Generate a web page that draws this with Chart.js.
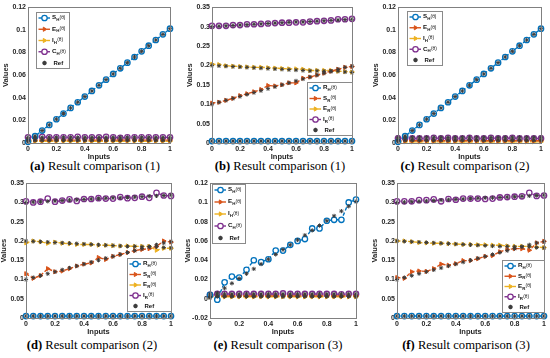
<!DOCTYPE html>
<html>
<head>
<meta charset="utf-8">
<script src="https://cdn.jsdelivr.net/npm/chart.js@4.4.1/dist/chart.umd.min.js"></script>
<style>
  body { margin: 0; width: 550px; height: 358px; background: #fff; position: relative; overflow: hidden; }
  canvas.panel { position: absolute; }
  .cap { position: absolute; font-family: "Liberation Serif", "Times New Roman", serif; font-size: 12.6px; color: #000; white-space: nowrap; transform: translateX(-50%); }
</style>
</head>
<body>
<div class="cap" style="left:95px;top:159px"><b>(a)</b> Result comparison (1)</div>
<div class="cap" style="left:280px;top:159px"><b>(b)</b> Result comparison (1)</div>
<div class="cap" style="left:465px;top:159px"><b>(c)</b> Result comparison (2)</div>
<div class="cap" style="left:92px;top:338px"><b>(d)</b> Result comparison (2)</div>
<div class="cap" style="left:278px;top:338px"><b>(e)</b> Result comparison (3)</div>
<div class="cap" style="left:466px;top:338px"><b>(f)</b> Result comparison (3)</div>

<script>
// --- datos ---
const inputs = [0, 0.05, 0.1, 0.15, 0.2, 0.25, 0.3, 0.35, 0.4, 0.45, 0.5, 0.55, 0.6, 0.65, 0.7, 0.75, 0.8, 0.85, 0.9, 0.95, 1];
const xTicks = [0, 0.2, 0.4, 0.6, 0.8, 1];

// referencia (estrellas grises)
const refSH = [0.001, 0.006, 0.011, 0.016, 0.021, 0.026, 0.031, 0.036, 0.041, 0.046, 0.051, 0.056, 0.061, 0.066, 0.071, 0.076, 0.081, 0.086, 0.091, 0.096, 0.101];
const refEH = [0.0025, 0.0025, 0.0025, 0.0025, 0.0025, 0.0025, 0.0025, 0.0025, 0.0025, 0.0025, 0.0025, 0.0025, 0.0025, 0.0025, 0.0025, 0.0025, 0.0025, 0.0025, 0.0025, 0.0025, 0.0025];
const refCH = [0.005, 0.005, 0.005, 0.005, 0.005, 0.005, 0.005, 0.005, 0.005, 0.005, 0.005, 0.005, 0.005, 0.005, 0.005, 0.005, 0.005, 0.005, 0.005, 0.005, 0.005];
const refRH = [0.005, 0.005, 0.005, 0.005, 0.005, 0.005, 0.005, 0.005, 0.005, 0.005, 0.005, 0.005, 0.005, 0.005, 0.005, 0.005, 0.005, 0.005, 0.005, 0.005, 0.005];
const refSR = [0.100, 0.105, 0.110, 0.115, 0.120, 0.125, 0.130, 0.135, 0.140, 0.145, 0.150, 0.155, 0.160, 0.165, 0.170, 0.175, 0.180, 0.185, 0.190, 0.195, 0.198];
const refER = [0.200, 0.199, 0.198, 0.197, 0.196, 0.195, 0.194, 0.193, 0.192, 0.191, 0.190, 0.189, 0.188, 0.187, 0.186, 0.186, 0.185, 0.185, 0.185, 0.183, 0.182];
const refIR = [0.300, 0.301, 0.302, 0.303, 0.304, 0.305, 0.306, 0.307, 0.308, 0.309, 0.310, 0.311, 0.312, 0.312, 0.313, 0.314, 0.315, 0.316, 0.317, 0.318, 0.319];

// (a)
const aSH = [0.001, 0.006, 0.011, 0.016, 0.021, 0.026, 0.031, 0.036, 0.041, 0.046, 0.051, 0.056, 0.061, 0.066, 0.071, 0.076, 0.081, 0.086, 0.091, 0.096, 0.101];
const aEH = [0.0025, 0.0025, 0.0025, 0.0025, 0.0025, 0.0025, 0.0025, 0.0025, 0.0025, 0.0025, 0.0025, 0.0025, 0.0025, 0.0025, 0.0025, 0.0025, 0.0025, 0.0025, 0.0025, 0.0025, 0.0025];
const aIH = [0.0015, 0.0015, 0.0015, 0.0015, 0.0015, 0.0015, 0.0015, 0.0015, 0.0015, 0.0015, 0.0015, 0.0015, 0.0015, 0.0015, 0.0015, 0.0015, 0.0015, 0.0015, 0.0015, 0.0015, 0.0015];
const aCH = [0.005, 0.0055, 0.0055, 0.005, 0.005, 0.005, 0.005, 0.0055, 0.005, 0.005, 0.005, 0.0055, 0.005, 0.0045, 0.005, 0.005, 0.005, 0.005, 0.005, 0.005, 0.005];

// (b)
const bRH = [0.005, 0.005, 0.005, 0.005, 0.005, 0.005, 0.005, 0.005, 0.005, 0.005, 0.005, 0.005, 0.005, 0.005, 0.005, 0.005, 0.005, 0.005, 0.005, 0.005, 0.005];
const bSR = [0.103, 0.105, 0.110, 0.115, 0.122, 0.127, 0.132, 0.138, 0.148, 0.147, 0.150, 0.155, 0.155, 0.167, 0.170, 0.175, 0.180, 0.185, 0.190, 0.195, 0.197];
const bER = [0.203, 0.202, 0.199, 0.198, 0.197, 0.196, 0.195, 0.195, 0.194, 0.193, 0.192, 0.191, 0.191, 0.190, 0.187, 0.187, 0.187, 0.187, 0.185, 0.184, 0.183];
const bIR = [0.302, 0.302, 0.302, 0.304, 0.304, 0.306, 0.306, 0.307, 0.308, 0.309, 0.310, 0.310, 0.311, 0.311, 0.313, 0.314, 0.315, 0.316, 0.319, 0.319, 0.320];

// (c)
const cSH = [0.001, 0.006, 0.011, 0.016, 0.021, 0.026, 0.031, 0.036, 0.041, 0.046, 0.051, 0.056, 0.061, 0.066, 0.071, 0.076, 0.081, 0.086, 0.091, 0.096, 0.101];
const cEH = [0.002, 0.002, 0.002, 0.002, 0.002, 0.002, 0.002, 0.002, 0.002, 0.002, 0.002, 0.002, 0.002, 0.002, 0.002, 0.002, 0.002, 0.002, 0.002, 0.002, 0.002];
const cIH = [0.001, 0.001, 0.001, 0.001, 0.001, 0.001, 0.001, 0.001, 0.001, 0.001, 0.001, 0.001, 0.001, 0.001, 0.001, 0.001, 0.001, 0.001, 0.001, 0.001, 0.001];
const cCH = [0.004, 0.0045, 0.004, 0.004, 0.004, 0.0045, 0.004, 0.0045, 0.004, 0.004, 0.0045, 0.004, 0.004, 0.0045, 0.004, 0.004, 0.0045, 0.004, 0.004, 0.004, 0.004];

// (d)
const dRH = [0.005, 0.005, 0.005, 0.005, 0.005, 0.005, 0.005, 0.005, 0.005, 0.005, 0.005, 0.005, 0.005, 0.005, 0.005, 0.005, 0.005, 0.005, 0.005, 0.005, 0.005];
const dSR = [0.115, 0.103, 0.110, 0.128, 0.120, 0.122, 0.128, 0.135, 0.140, 0.143, 0.157, 0.152, 0.160, 0.165, 0.170, 0.175, 0.178, 0.180, 0.186, 0.200, 0.197];
const dER = [0.195, 0.200, 0.198, 0.194, 0.197, 0.194, 0.193, 0.191, 0.191, 0.191, 0.189, 0.189, 0.188, 0.187, 0.187, 0.186, 0.186, 0.186, 0.176, 0.181, 0.181];
const dIR = [0.303, 0.300, 0.302, 0.310, 0.302, 0.305, 0.308, 0.304, 0.309, 0.309, 0.311, 0.310, 0.310, 0.314, 0.311, 0.312, 0.315, 0.312, 0.325, 0.318, 0.317];

// (e)
const eSH = [0.004, -0.001, 0.017, 0.023, 0.022, 0.030, 0.040, 0.038, 0.041, 0.050, 0.050, 0.056, 0.060, 0.062, 0.073, 0.073, 0.081, 0.082, 0.082, 0.100, 0.103];
const eEH = [0.003, 0.003, 0.003, 0.003, 0.003, 0.003, 0.003, 0.003, 0.003, 0.003, 0.003, 0.003, 0.003, 0.003, 0.003, 0.003, 0.003, 0.003, 0.003, 0.003, 0.003];
const eIH = [0.002, 0.002, 0.002, 0.002, 0.002, 0.002, 0.002, 0.002, 0.002, 0.002, 0.002, 0.002, 0.002, 0.002, 0.002, 0.002, 0.002, 0.002, 0.002, 0.002, 0.002];
const eCH = [0.004, 0.005, 0.005, 0.005, 0.005, 0.005, 0.005, 0.005, 0.005, 0.005, 0.0055, 0.005, 0.005, 0.005, 0.005, 0.005, 0.005, 0.005, 0.0045, 0.005, 0.005];

// (f)
const fRH = [0.005, 0.005, 0.005, 0.005, 0.005, 0.005, 0.005, 0.005, 0.005, 0.005, 0.005, 0.005, 0.005, 0.005, 0.005, 0.005, 0.005, 0.005, 0.005, 0.005, 0.005];
const fSR = [0.105, 0.103, 0.120, 0.122, 0.121, 0.128, 0.140, 0.137, 0.141, 0.149, 0.149, 0.154, 0.160, 0.162, 0.172, 0.178, 0.180, 0.180, 0.176, 0.195, 0.199];
const fER = [0.200, 0.200, 0.198, 0.196, 0.195, 0.194, 0.194, 0.193, 0.192, 0.191, 0.191, 0.190, 0.190, 0.189, 0.189, 0.187, 0.186, 0.186, 0.186, 0.184, 0.183];
const fIR = [0.303, 0.303, 0.303, 0.306, 0.306, 0.308, 0.303, 0.309, 0.307, 0.310, 0.310, 0.310, 0.309, 0.310, 0.313, 0.314, 0.315, 0.316, 0.325, 0.317, 0.318];

// --- estilos ---
const AZUL = '#0072BD', NARANJA = '#D95319', AMARILLO = '#EDB120', MORADO = '#7E2F8E', GRIS_REF = '#3c3c3c';
const EJE = '#808080';
const FUENTE = '"Liberation Sans", Arial, sans-serif';

const serie = (name, sub, data, color, abierto) => ({ name, sub, data, color, abierto });

const paneles = [
    { plot: [28, 7, 170, 143], y: [0, 0.12, 0.02],
      legend: { corner: 'nw', dx: 8, dy: 5, w: 33, h: 56 },
      series: [serie('S', 'H', aSH, AZUL, true), serie('E', 'H', aEH, NARANJA, false), serie('I', 'H', aIH, AMARILLO, false), serie('C', 'H', aCH, MORADO, true)],
      refs: [refSH, refEH, refEH, refCH] },
    { plot: [212, 7, 352, 143], y: [0, 0.35, 0.05],
      legend: { corner: 'se', dx: 0, dy: 8, w: 45, h: 53 },
      series: [serie('R', 'H', bRH, AZUL, true), serie('S', 'R', bSR, NARANJA, false), serie('E', 'R', bER, AMARILLO, false), serie('I', 'R', bIR, MORADO, true)],
      refs: [refRH, refSR, refER, refIR] },
    { plot: [398, 7, 541, 143], y: [0, 0.12, 0.02],
      legend: { corner: 'nw', dx: 9, dy: 4, w: 35, h: 54 },
      series: [serie('S', 'H', cSH, AZUL, true), serie('E', 'H', cEH, NARANJA, false), serie('I', 'H', cIH, AMARILLO, false), serie('C', 'H', cCH, MORADO, true)],
      refs: [refSH, refEH, refEH, refCH] },
    { plot: [26, 183, 171, 318], y: [0, 0.35, 0.05],
      legend: { corner: 'se', dx: 0, dy: 7, w: 44, h: 53 },
      series: [serie('R', 'H', dRH, AZUL, true), serie('S', 'R', dSR, NARANJA, false), serie('E', 'R', dER, AMARILLO, false), serie('I', 'R', dIR, MORADO, true)],
      refs: [refRH, refSR, refER, refIR] },
    { plot: [210, 183, 356, 318], y: [-0.02, 0.12, 0.02],
      legend: { corner: 'nw', dx: 2, dy: 1, w: 33, h: 59 },
      series: [serie('S', 'H', eSH, AZUL, true), serie('E', 'H', eEH, NARANJA, false), serie('I', 'H', eIH, AMARILLO, false), serie('C', 'H', eCH, MORADO, true)],
      refs: [refSH, refEH, refEH, refCH] },
    { plot: [397, 183, 544, 318], y: [0, 0.35, 0.05],
      legend: { corner: 'se', dx: 0, dy: 6, w: 42, h: 52 },
      series: [serie('R', 'H', fRH, AZUL, true), serie('S', 'R', fSR, NARANJA, false), serie('E', 'R', fER, AMARILLO, false), serie('I', 'R', fIR, MORADO, true)],
      refs: [refRH, refSR, refER, refIR] }
];

const ANCHO_Y = 28, ALTO_X = 19, PAD_TOP = 6, PAD_DER = 6;

function estiloMarcador(s) {
    return s.abierto
        ? { pointStyle: 'circle', rotation: 0, radius: 2.7, borderWidth: 1.3, fill: '#fff' }
        : { pointStyle: 'triangle', rotation: 90, radius: 2.4, borderWidth: 1, fill: s.color };
}

/**
 * Caja del eje + leyenda interior estilo MATLAB
 */
const pluginCajaLeyenda = {
    id: 'cajaLeyenda',
    afterDraw(chart, args, opts) {
        const { ctx, chartArea: a } = chart;
        ctx.save();
        ctx.strokeStyle = EJE;
        ctx.lineWidth = 1;
        const l = Math.round(a.left) + 0.5, t = Math.round(a.top) + 0.5;
        ctx.strokeRect(l, t, Math.round(a.right) - Math.round(a.left), Math.round(a.bottom) - Math.round(a.top));

        const lg = opts.legend;
        const bx = Math.round(lg.corner === 'nw' ? a.left + lg.dx : a.right - lg.w - lg.dx) + 0.5;
        const by = Math.round(lg.corner === 'nw' ? a.top + lg.dy : a.bottom - lg.h - lg.dy) + 0.5;
        ctx.fillStyle = '#fff';
        ctx.fillRect(bx, by, lg.w, lg.h);
        ctx.strokeStyle = '#8a8a8a';
        ctx.strokeRect(bx, by, lg.w, lg.h);

        const filas = [...opts.series, { ref: true }];
        const paso = (lg.h - 11) / (filas.length - 1);
        filas.forEach((s, i) => {
            const cy = by + 5.5 + i * paso;
            const mx = bx + 8;
            if (s.ref) {
                ctx.strokeStyle = GRIS_REF;
                ctx.fillStyle = GRIS_REF;
                Chart.helpers.drawPoint(ctx, { pointStyle: 'star', radius: 2.2, borderWidth: 1, rotation: 0 }, mx, cy);
                ctx.fillStyle = '#111';
                ctx.font = `bold 6px ${FUENTE}`;
                ctx.textBaseline = 'middle';
                ctx.fillText('Ref', bx + 17, cy);
                return;
            }
            ctx.strokeStyle = s.color;
            ctx.lineWidth = 1.4;
            ctx.beginPath(); ctx.moveTo(bx + 2, cy); ctx.lineTo(bx + 9, cy); ctx.stroke();
            ctx.beginPath(); ctx.moveTo(bx + 10.5, cy); ctx.lineTo(bx + 13.5, cy); ctx.stroke();
            const m = estiloMarcador(s);
            ctx.fillStyle = m.fill;
            ctx.lineWidth = m.borderWidth;
            Chart.helpers.drawPoint(ctx, { pointStyle: m.pointStyle, radius: m.radius, borderWidth: m.borderWidth, rotation: m.rotation }, mx, cy);

            ctx.fillStyle = '#111';
            ctx.textBaseline = 'middle';
            let tx = bx + 15.5;
            ctx.font = `bold 6.2px ${FUENTE}`;
            ctx.fillText(s.name, tx, cy - 0.3);
            tx += ctx.measureText(s.name).width;
            ctx.font = `bold 4.4px ${FUENTE}`;
            ctx.fillText(s.sub, tx, cy + 1.9);
            tx += ctx.measureText(s.sub).width + 0.3;
            ctx.font = `4.8px ${FUENTE}`;
            ctx.fillText('(θ)', tx, cy - 0.5);
        });
        ctx.restore();
    }
};

const fmt = v => String(+Number(v).toFixed(3));

function crearPanel(p) {
    const [L, T, R, B] = p.plot;
    const canvas = document.createElement('canvas');
    canvas.className = 'panel';
    canvas.width = (R - L) + ANCHO_Y + PAD_DER;
    canvas.height = (B - T) + PAD_TOP + ALTO_X;
    canvas.style.left = (L - ANCHO_Y) + 'px';
    canvas.style.top = (T - PAD_TOP) + 'px';
    document.body.appendChild(canvas);

    const datasets = p.series.map(s => {
        const m = estiloMarcador(s);
        return {
            label: s.name + s.sub,
            data: inputs.map((x, i) => ({ x, y: s.data[i] })),
            borderColor: s.color,
            borderWidth: 1.4,
            borderDash: [3.5, 2],
            pointStyle: m.pointStyle,
            pointRotation: m.rotation,
            pointRadius: m.radius,
            pointBorderWidth: m.borderWidth,
            pointBackgroundColor: m.fill,
            pointBorderColor: s.color,
            clip: false,
            order: 1
        };
    });
    datasets.push({
        label: 'Ref',
        data: p.refs.flatMap(arr => inputs.map((x, i) => ({ x, y: arr[i] }))),
        showLine: false,
        pointStyle: 'star',
        pointRadius: 2.1,
        pointBorderWidth: 1,
        pointBorderColor: GRIS_REF,
        pointBackgroundColor: GRIS_REF,
        clip: false,
        order: 0
    });

    const ticksComunes = { color: '#262626', font: { family: FUENTE, size: 7, weight: 'bold' }, padding: 2 };
    const tituloComun = { display: true, color: '#262626', font: { family: FUENTE, size: 7.5, weight: 'bold' }, padding: 1 };

    new Chart(canvas, {
        type: 'line',
        data: { datasets },
        plugins: [pluginCajaLeyenda],
        options: {
            responsive: false,
            animation: false,
            devicePixelRatio: 1,
            layout: { padding: { top: PAD_TOP, right: PAD_DER, left: 0, bottom: 0 } },
            plugins: {
                legend: { display: false },
                tooltip: { enabled: false },
                cajaLeyenda: { legend: p.legend, series: p.series }
            },
            scales: {
                x: {
                    type: 'linear', min: 0, max: 1,
                    afterBuildTicks: sc => { sc.ticks = xTicks.map(v => ({ value: v })); },
                    afterFit: sc => { sc.height = ALTO_X; },
                    ticks: { ...ticksComunes, autoSkip: false, maxRotation: 0, callback: fmt },
                    grid: { display: false, drawTicks: false },
                    border: { display: false },
                    title: { ...tituloComun, text: 'Inputs' }
                },
                y: {
                    type: 'linear', min: p.y[0], max: p.y[1],
                    afterFit: sc => { sc.width = ANCHO_Y; },
                    ticks: { ...ticksComunes, stepSize: p.y[2], callback: fmt },
                    grid: { display: false, drawTicks: false },
                    border: { display: false },
                    title: { ...tituloComun, text: 'Values' }
                }
            }
        }
    });
}

paneles.forEach(crearPanel);
</script>
</body>
</html>
